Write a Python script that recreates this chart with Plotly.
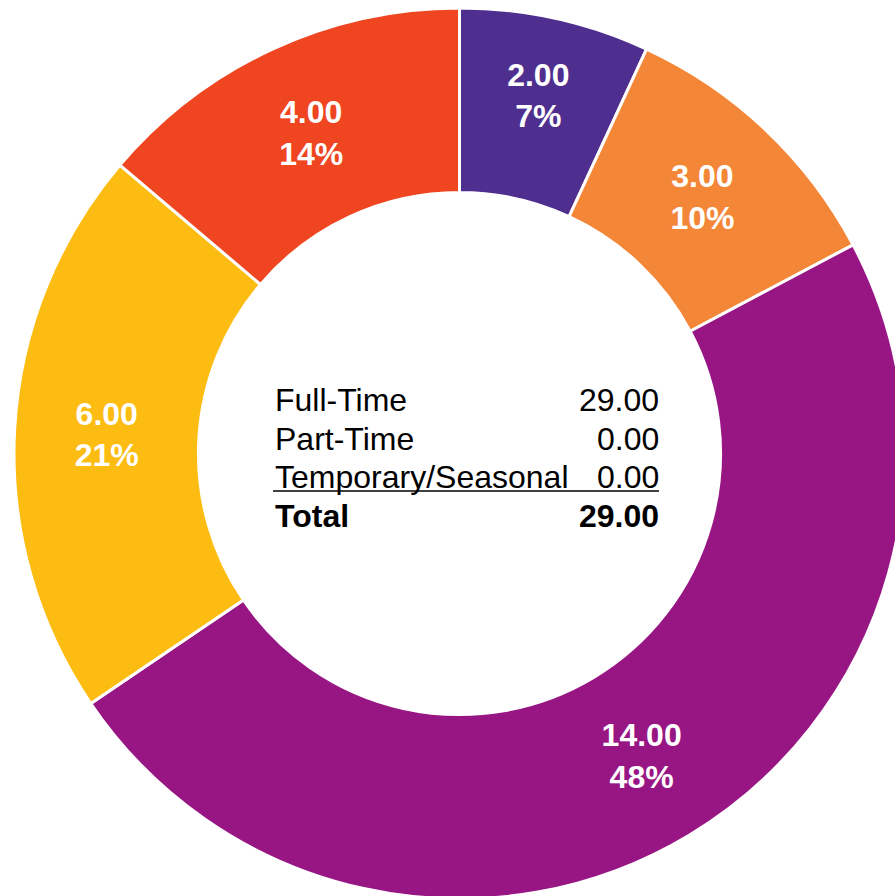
import plotly.graph_objects as go

# Headcount by segment (FTE), drawn clockwise from 12 o'clock
segments = ["Segment 1", "Segment 2", "Segment 3", "Segment 4", "Segment 5"]
fte_values = [2.00, 3.00, 14.00, 6.00, 4.00]
slice_colors = ["#4E2E8F", "#F48638", "#981684", "#FDBC12", "#EF4520"]

# Summary table shown in the middle of the ring
summary_labels = ["Full-Time", "Part-Time", "Temporary/Seasonal", "Total"]
part_time = 0.00
temporary = 0.00
full_time = sum(fte_values)
summary_values = [full_time, part_time, temporary, full_time + part_time + temporary]

FONT = "Arial, Liberation Sans, sans-serif"

W, H = 918, 907
M_L, M_R, M_T, M_B = 14, 13, 8, 8
plot_w = W - M_L - M_R
plot_h = H - M_T - M_B


def px_x(x):
    return (x - M_L) / plot_w


def px_y(y):
    return (H - M_B - y) / plot_h


fig = go.Figure(
    go.Pie(
        labels=segments,
        values=fte_values,
        hole=0.586,
        sort=False,
        direction="clockwise",
        rotation=0,
        marker=dict(colors=slice_colors, line=dict(color="white", width=3)),
        texttemplate="<b>%{value:.2f}<br>%{percent:.0%}</b>",
        textposition="inside",
        insidetextorientation="horizontal",
        textfont=dict(family=FONT, size=32, color="white"),
        hoverinfo="none",
        showlegend=False,
    )
)

row_y = [400, 439, 477, 516]
left_x, right_x = 273, 661
annotations = []
for i, (lab, val) in enumerate(zip(summary_labels, summary_values)):
    bold = lab == "Total"
    fmt = (lambda s: f"<b>{s}</b>") if bold else (lambda s: s)
    annotations.append(dict(
        x=px_x(left_x), y=px_y(row_y[i]), xref="paper", yref="paper",
        text=fmt(lab), showarrow=False, xanchor="left", yanchor="middle",
        font=dict(family=FONT, size=32, color="black"),
    ))
    annotations.append(dict(
        x=px_x(right_x), y=px_y(row_y[i]), xref="paper", yref="paper",
        text=fmt(f"{val:.2f}"), showarrow=False, xanchor="right", yanchor="middle",
        font=dict(family=FONT, size=32, color="black"),
    ))

fig.update_layout(
    width=W,
    height=H,
    margin=dict(l=M_L, r=M_R, t=M_T, b=M_B, pad=0),
    paper_bgcolor="white",
    plot_bgcolor="white",
    annotations=annotations,
    shapes=[dict(
        type="line", xref="paper", yref="paper",
        x0=px_x(273), x1=px_x(659), y0=px_y(491), y1=px_y(491),
        line=dict(color="black", width=1.5),
    )],
)

fig.write_html(
    "out.html",
    config={"displayModeBar": False},
    post_script=(
        "document.documentElement.style.overflow='hidden';"
        "document.body.style.overflow='hidden';"
        "document.body.style.margin='0';"
    ),
)
